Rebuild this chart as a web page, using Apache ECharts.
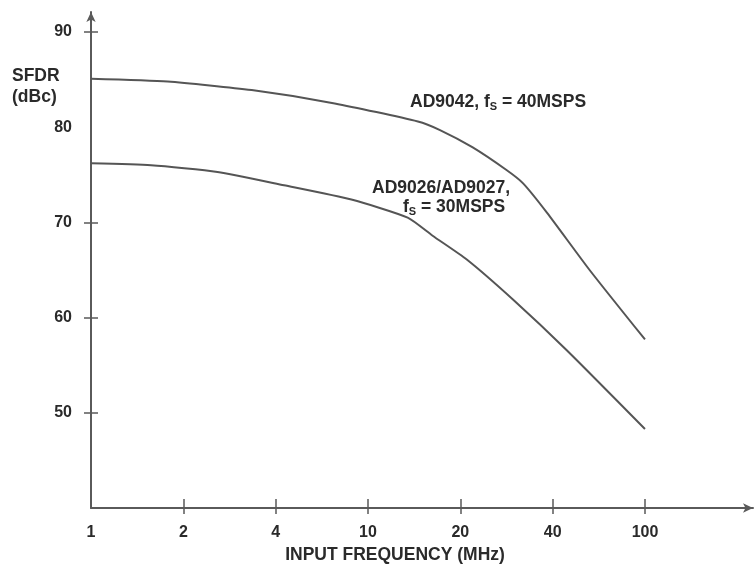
<!DOCTYPE html>
<html>
<head>
<meta charset="utf-8">
<script src="https://cdn.jsdelivr.net/npm/echarts@6/dist/echarts.min.js"></script>
<style>html,body{margin:0;padding:0;background:#fff;}#c{width:756px;height:564px;}</style>
</head>
<body>
<div id="c"></div>
<script>
// X axis: ticks equally spaced; x values are positions in tick units (0 = "1", 6 = "100")
const tickLabels = ['1', '2', '4', '10', '20', '40', '100'];
const yTickValues = [50, 60, 70, 80, 90];

const ad9042X = [0, 0.83, 1.74, 2.64, 3.54, 3.78, 4.13, 4.50, 4.68, 4.94, 5.40, 6.0];
const ad9042Y = [85.1, 84.8, 83.9, 82.5, 80.6, 79.7, 77.9, 75.5, 74.1, 71.0, 65.0, 57.7];

const ad9026X = [0, 0.65, 1.37, 2.09, 2.82, 3.43, 3.70, 4.07, 4.57, 5.15, 6.0];
const ad9026Y = [76.2, 76.0, 75.3, 73.9, 72.4, 70.5, 68.6, 66.1, 61.9, 56.6, 48.3];

const zip = (xs, ys) => xs.map((x, i) => [x, ys[i]]);

const FONT = '"Liberation Sans", Arial, sans-serif';
const TXT = '#2a2a2a';
const AX = '#5a5a5a';

const chart = echarts.init(document.getElementById('c'));
chart.setOption({
  animation: false,
  backgroundColor: '#fff',
  grid: { left: 91, right: 3, top: 12, bottom: 56, containLabel: false, outerBoundsMode: 'none' },
  xAxis: [{
    type: 'value', min: 0, max: 7.17,
    axisLine: { lineStyle: { color: AX, width: 2 }, symbol: ['none', 'arrow'], symbolSize: [7, 10] },
    axisTick: { inside: true, length: 9, lineStyle: { color: AX, width: 1.5 }, customValues: [1, 2, 3, 4, 5, 6] },
    axisLabel: {
      customValues: [0, 1, 2, 3, 4, 5, 6], margin: 17,
      formatter: v => tickLabels[Math.round(v)],
      color: TXT, fontFamily: FONT, fontWeight: 'bold', fontSize: 16
    },
    splitLine: { show: false },
    name: 'INPUT FREQUENCY (MHz)', nameLocation: 'middle', nameGap: 38,
    nameTextStyle: { color: TXT, fontFamily: FONT, fontWeight: 'bold', fontSize: 17.5, padding: [0, 54, 0, 0] }
  }, {
    type: 'value', min: 0, max: 7.17, position: 'bottom',
    axisLine: { show: false },
    axisTick: { inside: false, length: 6, lineStyle: { color: AX, width: 1.5 }, customValues: [1, 2, 3, 4, 5, 6] },
    axisLabel: { show: false }, splitLine: { show: false }
  }],
  yAxis: [{
    type: 'value', min: 40, max: 92.1,
    axisLine: { lineStyle: { color: AX, width: 2 }, symbol: ['none', 'arrow'], symbolSize: [7, 10] },
    axisTick: { inside: true, length: 7, lineStyle: { color: AX, width: 1.5 }, customValues: [50, 60, 70, 90] },
    axisLabel: {
      customValues: yTickValues, margin: 19,
      color: TXT, fontFamily: FONT, fontWeight: 'bold', fontSize: 16
    },
    splitLine: { show: false }
  }, {
    type: 'value', min: 40, max: 92.1, position: 'left',
    axisLine: { show: false },
    axisTick: { inside: false, length: 7, lineStyle: { color: AX, width: 1.5 }, customValues: [50, 60, 70, 90] },
    axisLabel: { show: false }, splitLine: { show: false }
  }],
  series: [{
    name: 'AD9042, fS = 40MSPS', type: 'line', smooth: 0.2, showSymbol: false,
    lineStyle: { color: '#555', width: 2 },
    data: zip(ad9042X, ad9042Y)
  }, {
    name: 'AD9026/AD9027, fS = 30MSPS', type: 'line', smooth: 0.2, showSymbol: false,
    lineStyle: { color: '#555', width: 2 },
    data: zip(ad9026X, ad9026Y)
  }],
  graphic: [
    { type: 'text', left: 12, top: 66, style: { text: 'SFDR\n(dBc)', font: 'bold 17.5px ' + FONT, fill: TXT, lineHeight: 21 } },
    { type: 'text', left: 410, top: 93, style: {
        text: '{a|AD9042, f}{s|S}{a| = 40MSPS}',
        rich: { a: { font: 'bold 17.5px ' + FONT, fill: TXT }, s: { font: 'bold 11px ' + FONT, fill: TXT, padding: [10, 0, 0, 0] } }
    } },
    { type: 'text', left: 372, top: 179, style: { text: 'AD9026/AD9027,', font: 'bold 17.5px ' + FONT, fill: TXT } },
    { type: 'text', left: 403, top: 198, style: {
        text: '{a|f}{s|S}{a| = 30MSPS}',
        rich: { a: { font: 'bold 17.5px ' + FONT, fill: TXT }, s: { font: 'bold 11px ' + FONT, fill: TXT, padding: [10, 0, 0, 0] } }
    } }
  ]
});
</script>
</body>
</html>
